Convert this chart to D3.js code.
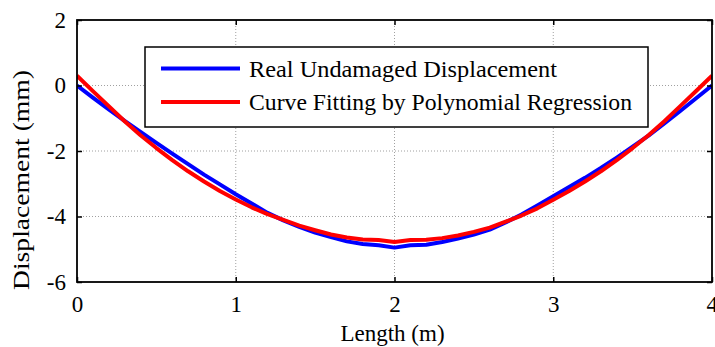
<!DOCTYPE html>
<html>
  <head>
    <meta charset="utf-8">
    <title>Displacement</title>
    <script src="https://d3js.org/d3.v7.min.js"></script>
    <style>
      body { margin: 0; background: #fff; }
      text { font-family: "Liberation Serif", "Times New Roman", serif; fill: #000; }
    </style>
  </head>
  <body>
  <script type="text/javascript">
    // step 0.1 m
    var lengths = d3.range(41).map(function(i){ return i / 10; });
    var realDisp = [0, -0.37, -0.73, -1.08, -1.42, -1.75, -2.08, -2.40, -2.72, -3.02,
                    -3.32, -3.60, -3.89, -4.12, -4.32, -4.49, -4.63, -4.76, -4.84, -4.88,
                    -4.95, -4.88, -4.86, -4.78, -4.67, -4.55, -4.40, -4.18, -3.94, -3.66,
                    -3.38, -3.10, -2.82, -2.52, -2.20, -1.87, -1.53, -1.16, -0.78, -0.39, 0];
    var fitDisp = [0.30, -0.17, -0.63, -1.09, -1.52, -1.91, -2.28, -2.62, -2.93, -3.22,
                   -3.48, -3.72, -3.93, -4.10, -4.28, -4.42, -4.55, -4.64, -4.70, -4.72,
                   -4.78, -4.72, -4.71, -4.66, -4.58, -4.47, -4.34, -4.16, -3.97, -3.75,
                   -3.49, -3.22, -2.93, -2.62, -2.28, -1.91, -1.52, -1.09, -0.63, -0.17, 0.30];
    var xTicks = [0, 1, 2, 3, 4];
    var yTicks = [2, 0, -2, -4, -6];
    var legendNames = ["Real Undamaged Displacement", "Curve Fitting by Polynomial Regression"];
    var colors = ["#0000ff", "#ff0000"];

    var W = 715, H = 347;
    var mLeft = 77, mRight = 712, mTop = 20, mBottom = 282;
    var fs = 23;

    var svg = d3.select("body").append("svg")
      .attr("width", W)
      .attr("height", H);

    var x = d3.scaleLinear().domain([0, 4]).range([mLeft, mRight]);
    var y = d3.scaleLinear().domain([-6, 2]).range([mBottom, mTop]);

    // grid
    var grid = svg.append("g");
    grid.selectAll(".vgrid")
      .data([1, 2, 3])
      .enter().append("line")
        .attr("x1", function(d){ return x(d); })
        .attr("x2", function(d){ return x(d); })
        .attr("y1", mTop).attr("y2", mBottom)
        .attr("stroke", "#888").attr("stroke-width", 0.8)
        .attr("stroke-dasharray", "1,2");
    grid.selectAll(".hgrid")
      .data([0, -2, -4])
      .enter().append("line")
        .attr("x1", mLeft).attr("x2", mRight)
        .attr("y1", function(d){ return y(d); })
        .attr("y2", function(d){ return y(d); })
        .attr("stroke", "#888").attr("stroke-width", 0.8)
        .attr("stroke-dasharray", "1,2");

    // curves
    svg.append("clipPath").attr("id", "clip")
      .append("rect").attr("x", mLeft).attr("y", mTop)
      .attr("width", mRight - mLeft).attr("height", mBottom - mTop);

    var line = d3.line()
      .x(function(d, i){ return x(lengths[i]); })
      .y(function(d){ return y(d); });

    var series = [realDisp, fitDisp];
    svg.append("g").attr("clip-path", "url(#clip)")
      .selectAll("path")
      .data(series)
      .enter().append("path")
        .attr("d", line)
        .attr("fill", "none")
        .attr("stroke", function(d, i){ return colors[i]; })
        .attr("stroke-width", 4)
        .attr("stroke-linejoin", "round");

    // axes, ticks pointing inward on all four sides
    var fmt = function(d){ return d < 0 ? "-" + Math.abs(d) : String(d); };
    var axB = svg.append("g").attr("transform", "translate(0," + mBottom + ")")
      .call(d3.axisBottom(x).tickValues(xTicks).tickFormat(fmt).tickSizeInner(-5).tickSizeOuter(0).tickPadding(14));
    var axT = svg.append("g").attr("transform", "translate(0," + mTop + ")")
      .call(d3.axisTop(x).tickValues(xTicks).tickFormat("").tickSizeInner(-5).tickSizeOuter(0));
    var axL = svg.append("g").attr("transform", "translate(" + mLeft + ",0)")
      .call(d3.axisLeft(y).tickValues(yTicks).tickFormat(fmt).tickSizeInner(-5).tickSizeOuter(0).tickPadding(11));
    var axR = svg.append("g").attr("transform", "translate(" + mRight + ",0)")
      .call(d3.axisRight(y).tickValues(yTicks).tickFormat("").tickSizeInner(-5).tickSizeOuter(0));

    [axB, axT, axL, axR].forEach(function(a){
      a.select(".domain").remove();
      a.selectAll(".tick line").attr("stroke", "#000").attr("stroke-width", 1.5);
      a.selectAll("text").attr("font-size", fs).attr("font-family", null).attr("fill", "#000");
    });
    axB.select(".tick:last-of-type text").attr("text-anchor", "start").attr("dx", -6);

    svg.append("rect")
      .attr("x", mLeft).attr("y", mTop)
      .attr("width", mRight - mLeft).attr("height", mBottom - mTop)
      .attr("fill", "none").attr("stroke", "#000").attr("stroke-width", 1.8);

    // axis labels
    svg.append("text")
      .attr("x", (mLeft + mRight) / 2 - 2).attr("y", 341)
      .attr("text-anchor", "middle").attr("font-size", fs)
      .text("Length (m)");
    svg.append("text")
      .attr("transform", "translate(29,180) rotate(-90)")
      .attr("text-anchor", "middle").attr("font-size", fs)
      .attr("textLength", 220).attr("lengthAdjust", "spacingAndGlyphs")
      .text("Displacement (mm)");

    // legend
    var lg = svg.append("g");
    lg.append("rect")
      .attr("x", 145).attr("y", 47).attr("width", 503).attr("height", 80)
      .attr("fill", "#fff").attr("stroke", "#000").attr("stroke-width", 1.5);
    var items = lg.selectAll(".item")
      .data(legendNames)
      .enter().append("g")
        .attr("transform", function(d, i){ return "translate(0," + (68.5 + i * 33.5) + ")"; });
    items.append("line")
      .attr("x1", 161).attr("x2", 240).attr("y1", 0).attr("y2", 0)
      .attr("stroke", function(d, i){ return colors[i]; })
      .attr("stroke-width", 4);
    items.append("text")
      .attr("x", 249).attr("y", 8)
      .attr("font-size", fs)
      .attr("textLength", function(d, i){ return i === 0 ? 308 : 383; })
      .attr("lengthAdjust", "spacingAndGlyphs")
      .text(function(d){ return d; });
  </script>
  </body>
</html>
